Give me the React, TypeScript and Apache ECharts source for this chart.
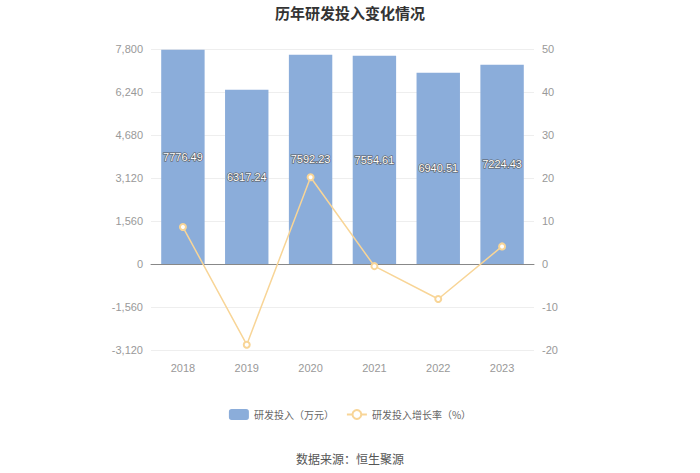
import React, { useEffect, useRef } from "react";
import * as echarts from "echarts";

const years = ["2018", "2019", "2020", "2021", "2022", "2023"];
const rdInvest = [7776.49, 6317.24, 7592.23, 7554.61, 6940.51, 7224.43];
const rdGrowth = [8.6, -18.77, 20.18, -0.5, -8.13, 4.09];

export default function App() {
  const ref = useRef<HTMLDivElement>(null);
  useEffect(() => {
    document.body.style.margin = "0";
    const chart = echarts.init(ref.current!, null, { renderer: "svg" });
    chart.setOption({
      animation: false,
      title: {
        text: "历年研发投入变化情况",
        left: "center",
        top: 0,
        textStyle: { fontSize: 15, fontWeight: "bold", color: "#333", fontFamily: "Noto Sans CJK SC" },
      },
      grid: { left: 151, right: 166, top: 49, height: 301 },
      legend: {
        bottom: 48,
        left: "center",
        itemWidth: 20,
        itemHeight: 11,
        itemGap: 12,
        textStyle: { color: "#666", fontSize: 10, fontFamily: "Noto Sans CJK SC" },
        data: [
          { name: "研发投入（万元）" },
          { name: "研发投入增长率（%）" },
        ],
      },
      graphic: [
        {
          type: "text",
          left: "center",
          top: 452,
          style: { text: "数据来源：恒生聚源", fill: "#555", fontSize: 12, fontFamily: "Noto Sans CJK SC" },
        },
      ],
      xAxis: {
        type: "category",
        data: years,
        axisLine: { lineStyle: { color: "#888" } },
        axisTick: { alignWithLabel: true, lineStyle: { color: "#888" } },
        axisLabel: { color: "#999", fontSize: 11, margin: 12 },
      },
      yAxis: [
        {
          type: "value",
          min: -3120,
          max: 7800,
          interval: 1560,
          axisLine: { show: false },
          axisTick: { show: false },
          axisLabel: {
            color: "#999",
            fontSize: 11,
            formatter: (v: number) => v.toLocaleString("en-US"),
          },
          splitLine: { lineStyle: { color: "#eee" } },
        },
        {
          type: "value",
          min: -20,
          max: 50,
          interval: 10,
          axisLine: { show: false },
          axisTick: { show: false },
          axisLabel: { color: "#999", fontSize: 11 },
          splitLine: { show: false },
        },
      ],
      series: [
        {
          name: "研发投入（万元）",
          type: "bar",
          data: rdInvest,
          barWidth: "68%",
          itemStyle: { color: "#8badda" },
          label: {
            show: true,
            position: "inside",
            color: "#fff",
            fontSize: 11,
            fontFamily: "Liberation Sans",
            textBorderColor: "#555",
            textBorderWidth: 1.2,
          },
        },
        {
          name: "研发投入增长率（%）",
          type: "line",
          yAxisIndex: 1,
          data: rdGrowth,
          symbol: "emptyCircle",
          symbolSize: 6,
          lineStyle: { color: "#f8d597", width: 1.5 },
          itemStyle: { color: "#f8d597", borderWidth: 1.5 },
        },
      ],
    });
    return () => chart.dispose();
  }, []);
  return <div ref={ref} style={{ width: 700, height: 473 }} />;
}
